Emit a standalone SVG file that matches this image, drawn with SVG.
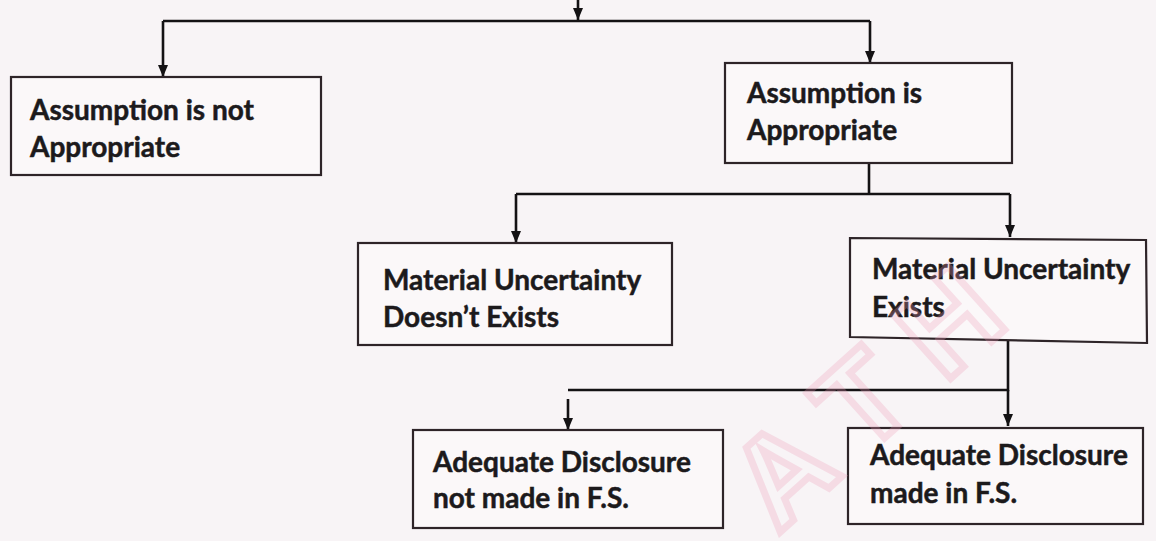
<svg xmlns="http://www.w3.org/2000/svg" width="1156" height="541" viewBox="0 0 1156 541">
  <defs>
    <marker id="arrow" viewBox="0 0 12 10" refX="12" refY="5" markerWidth="12" markerHeight="10" markerUnits="userSpaceOnUse" orient="auto">
      <path d="M0,0 L12,5 L0,10 Z" fill="#141214"/>
    </marker>
    <style>
      .bg { fill: #f8f4f6; }
      .box { fill: #fbf8f9; stroke: #2e2428; stroke-width: 2.2; }
      .label { font-family: Lato, "Open Sans", "Liberation Sans", sans-serif; font-weight: 700; font-size: 28px; fill: #1c1a1c; stroke: #1c1a1c; stroke-width: 0.5; }
      .wire { fill: none; stroke: #141214; stroke-width: 2.6; }
      .tip { fill: none; stroke: #141214; stroke-width: 2.6; marker-end: url(#arrow); }
      .mark { font-family: "Liberation Sans", sans-serif; font-weight: 700; font-size: 124px; fill: none; stroke: #ee9cb8; stroke-width: 7; opacity: 0.28; }
    </style>
  </defs>

  <rect class="bg" x="0" y="0" width="1156" height="541"/>

  <!-- connectors -->
  <g id="connectors">
    <path class="tip" d="M578,0 V20"/>
    <path class="wire" d="M163,21 H870"/>
    <path class="tip" d="M163,21 V77"/>
    <path class="tip" d="M870,21 V63"/>

    <path class="wire" d="M869,163 V194"/>
    <path class="wire" d="M516,194 H1010"/>
    <path class="tip" d="M516,194 V243"/>
    <path class="tip" d="M1010,194 V237"/>

    <path class="wire" d="M1008,338 V390 H568"/>
    <path class="tip" d="M1008,390 V426"/>
    <path class="tip" d="M568,399 V430"/>
  </g>

  <!-- nodes -->
  <g id="not-appropriate">
    <rect class="box" x="11" y="77" width="310" height="98"/>
    <text class="label" x="30" y="120">Assumption is not</text>
    <text class="label" x="30" y="157">Appropriate</text>
  </g>

  <g id="appropriate">
    <rect class="box" x="725" y="63" width="287" height="100"/>
    <text class="label" x="747" y="103">Assumption is</text>
    <text class="label" x="747" y="140">Appropriate</text>
  </g>

  <g id="uncertainty-absent">
    <rect class="box" x="358" y="243" width="314" height="102"/>
    <text class="label" x="383" y="290">Material Uncertainty</text>
    <text class="label" x="383" y="327">Doesn’t Exists</text>
  </g>

  <g id="uncertainty-exists">
    <path class="box" d="M850,238 L1146,240 L1147,343 L850,337 Z"/>
    <text class="label" x="872" y="279">Material Uncertainty</text>
    <text class="label" x="872" y="317">Exists</text>
  </g>

  <g id="disclosure-not-made">
    <rect class="box" x="413" y="430" width="310" height="98"/>
    <text class="label" x="433" y="472">Adequate Disclosure</text>
    <text class="label" x="433" y="508">not made in F.S.</text>
  </g>

  <g id="disclosure-made">
    <rect class="box" x="848" y="428" width="295" height="96"/>
    <text class="label" x="870" y="465">Adequate Disclosure</text>
    <text class="label" x="870" y="503">made in F.S.</text>
  </g>

  <!-- faint pink watermark stamped over the page -->
  <text class="mark" transform="translate(778,534) rotate(-42)" letter-spacing="34">ATH</text>
</svg>
